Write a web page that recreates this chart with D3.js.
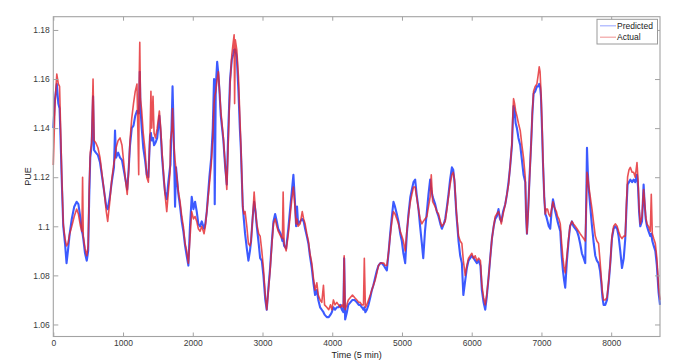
<!DOCTYPE html>
<html>
<head>
<meta charset="utf-8">
<script src="https://cdn.jsdelivr.net/npm/d3@7"></script>
<style>
  html, body { margin: 0; padding: 0; background: #fff; }
  svg { display: block; }
  text { font-family: "Liberation Sans", Arial, sans-serif; }
</style>
</head>
<body>
<svg id="chart" width="680" height="363"></svg>
<script>
// ---- data ----
const timeSteps = [0,25,50,72,90,105,120,143,168,190,210,235,265,300,335,360,390,410,420,430,455,480,500,515,530,550,570,585,610,640,670,700,730,760,780,810,838,870,885,900,930,957,985,1010,1035,1060,1080,1100,1125,1150,1175,1200,1225,1232,1240,1250,1268,1290,1316,1340,1363,1387,1400,1412,1430,1445,1465,1490,1521,1540,1560,1585,1602,1627,1650,1674,1680,1699,1710,1725,1746,1760,1794,1818,1842,1865,1890,1913,1937,1960,1985,2010,2033,2057,2080,2105,2129,2162,2180,2201,2238,2265,2287,2305,2315,2330,2350,2367,2385,2402,2439,2465,2488,2510,2535,2560,2580,2593,2600,2610,2631,2655,2675,2689,2717,2735,2750,2775,2798,2820,2836,2860,2880,2900,2918,2945,2966,2990,3013,3040,3061,3085,3109,3135,3157,3181,3205,3225,3260,3285,3296,3310,3339,3370,3396,3420,3443,3465,3482,3495,3510,3540,3570,3590,3611,3635,3658,3680,3707,3730,3754,3779,3800,3826,3850,3874,3890,3922,3950,3975,3994,4017,4040,4066,4090,4115,4138,4160,4171,4185,4210,4230,4260,4290,4320,4353,4380,4400,4425,4448,4460,4475,4496,4520,4545,4568,4590,4615,4640,4663,4690,4711,4740,4760,4783,4810,4831,4855,4878,4900,4926,4950,4975,4998,5020,5046,5070,5093,5120,5142,5165,5189,5210,5237,5260,5285,5305,5330,5357,5380,5404,5420,5440,5476,5500,5524,5550,5572,5600,5620,5645,5667,5690,5716,5735,5753,5780,5811,5835,5859,5880,5907,5930,5954,5978,6002,6026,6050,6074,6100,6125,6146,6170,6194,6215,6241,6265,6290,6315,6337,6360,6384,6405,6424,6450,6481,6505,6528,6550,6577,6590,6600,6615,6630,6648,6670,6696,6720,6743,6768,6780,6792,6810,6829,6854,6870,6887,6910,6935,6955,6968,6980,6993,7010,7022,7040,7055,7070,7088,7105,7126,7145,7165,7180,7198,7215,7231,7250,7270,7290,7308,7325,7341,7365,7389,7410,7437,7460,7485,7510,7532,7555,7580,7605,7628,7645,7653,7665,7676,7700,7725,7750,7772,7795,7819,7840,7858,7875,7891,7915,7940,7965,7987,8011,8035,8059,8085,8106,8130,8155,8180,8202,8220,8235,8255,8274,8300,8322,8345,8370,8385,8400,8417,8442,8465,8480,8495,8513,8535,8561,8575,8590,8610,8633,8655,8680,8700];

const actualPUE = [1.125,1.150,1.162,1.158,1.157,1.140,1.122,1.101,1.095,1.092,1.093,1.097,1.100,1.104,1.107,1.105,1.100,1.098,1.120,1.096,1.091,1.088,1.092,1.115,1.130,1.134,1.160,1.135,1.134,1.132,1.128,1.121,1.114,1.106,1.102,1.110,1.119,1.126,1.128,1.132,1.135,1.136,1.133,1.126,1.119,1.113,1.122,1.135,1.144,1.150,1.155,1.158,1.121,1.160,1.175,1.152,1.147,1.138,1.131,1.120,1.118,1.138,1.155,1.140,1.153,1.138,1.136,1.140,1.147,1.140,1.130,1.120,1.113,1.106,1.114,1.122,1.135,1.139,1.148,1.135,1.127,1.123,1.114,1.110,1.104,1.100,1.093,1.090,1.085,1.095,1.106,1.103,1.104,1.102,1.099,1.098,1.100,1.097,1.100,1.106,1.117,1.125,1.136,1.150,1.153,1.155,1.160,1.163,1.155,1.147,1.136,1.125,1.115,1.135,1.158,1.170,1.175,1.178,1.150,1.176,1.172,1.161,1.145,1.134,1.108,1.105,1.106,1.100,1.093,1.092,1.094,1.104,1.114,1.106,1.101,1.097,1.096,1.090,1.083,1.072,1.066,1.074,1.082,1.093,1.101,1.103,1.100,1.098,1.096,1.095,1.114,1.093,1.090,1.097,1.104,1.111,1.116,1.108,1.101,1.103,1.100,1.101,1.106,1.103,1.101,1.097,1.094,1.089,1.085,1.079,1.074,1.077,1.072,1.070,1.069,1.076,1.068,1.067,1.066,1.068,1.066,1.070,1.068,1.069,1.068,1.067,1.068,1.067,1.088,1.066,1.068,1.070,1.071,1.072,1.071,1.070,1.069,1.069,1.068,1.068,1.087,1.067,1.068,1.070,1.072,1.074,1.076,1.078,1.081,1.084,1.085,1.085,1.085,1.084,1.084,1.090,1.096,1.102,1.106,1.105,1.103,1.101,1.098,1.096,1.094,1.090,1.098,1.104,1.110,1.113,1.116,1.116,1.112,1.107,1.103,1.101,1.102,1.103,1.104,1.108,1.112,1.121,1.110,1.108,1.106,1.105,1.102,1.100,1.101,1.102,1.107,1.112,1.117,1.121,1.122,1.119,1.106,1.096,1.094,1.093,1.086,1.080,1.084,1.087,1.088,1.089,1.087,1.088,1.086,1.087,1.086,1.076,1.071,1.068,1.072,1.079,1.087,1.095,1.100,1.104,1.105,1.106,1.104,1.101,1.105,1.109,1.113,1.117,1.124,1.134,1.146,1.152,1.150,1.147,1.145,1.142,1.139,1.133,1.128,1.120,1.105,1.097,1.106,1.119,1.135,1.147,1.155,1.157,1.158,1.162,1.165,1.163,1.155,1.140,1.127,1.112,1.105,1.107,1.107,1.105,1.104,1.107,1.110,1.108,1.107,1.106,1.104,1.103,1.101,1.093,1.087,1.083,1.081,1.088,1.095,1.100,1.102,1.101,1.100,1.099,1.098,1.097,1.096,1.095,1.094,1.110,1.122,1.120,1.117,1.112,1.107,1.101,1.096,1.094,1.093,1.086,1.079,1.073,1.070,1.070,1.071,1.078,1.085,1.096,1.100,1.101,1.100,1.098,1.096,1.095,1.096,1.096,1.110,1.120,1.123,1.124,1.122,1.122,1.120,1.126,1.119,1.108,1.101,1.104,1.115,1.110,1.104,1.101,1.100,1.098,1.113,1.097,1.095,1.093,1.087,1.075,1.070];

const predictedPUE = [1.140,1.152,1.158,1.150,1.148,1.135,1.120,1.100,1.093,1.085,1.090,1.097,1.103,1.108,1.110,1.109,1.103,1.098,1.097,1.095,1.089,1.086,1.090,1.112,1.128,1.133,1.153,1.131,1.130,1.129,1.126,1.120,1.114,1.108,1.107,1.112,1.118,1.124,1.139,1.128,1.130,1.128,1.127,1.123,1.119,1.115,1.123,1.133,1.140,1.141,1.145,1.147,1.146,1.150,1.163,1.148,1.140,1.132,1.127,1.121,1.120,1.137,1.138,1.135,1.136,1.133,1.134,1.136,1.145,1.138,1.128,1.119,1.114,1.111,1.118,1.124,1.125,1.144,1.157,1.140,1.108,1.124,1.113,1.108,1.102,1.098,1.092,1.088,1.084,1.100,1.112,1.107,1.110,1.106,1.101,1.100,1.102,1.099,1.101,1.106,1.120,1.128,1.140,1.160,1.109,1.157,1.167,1.162,1.154,1.145,1.135,1.124,1.117,1.140,1.160,1.168,1.170,1.172,1.172,1.172,1.169,1.155,1.140,1.132,1.108,1.102,1.097,1.091,1.086,1.090,1.094,1.104,1.110,1.106,1.100,1.093,1.087,1.086,1.080,1.070,1.066,1.075,1.083,1.094,1.102,1.105,1.102,1.099,1.097,1.094,1.095,1.092,1.091,1.099,1.107,1.114,1.121,1.110,1.100,1.108,1.101,1.102,1.103,1.102,1.099,1.096,1.093,1.088,1.083,1.077,1.072,1.074,1.070,1.067,1.066,1.065,1.064,1.063,1.063,1.064,1.065,1.067,1.066,1.067,1.067,1.068,1.066,1.065,1.087,1.062,1.065,1.068,1.069,1.070,1.070,1.069,1.068,1.068,1.067,1.066,1.067,1.065,1.066,1.068,1.071,1.074,1.076,1.079,1.082,1.084,1.085,1.085,1.084,1.083,1.082,1.090,1.097,1.104,1.110,1.108,1.105,1.102,1.097,1.094,1.089,1.085,1.097,1.105,1.112,1.115,1.118,1.119,1.113,1.107,1.100,1.093,1.087,1.098,1.106,1.113,1.119,1.115,1.112,1.109,1.106,1.104,1.101,1.099,1.101,1.103,1.108,1.113,1.119,1.124,1.123,1.118,1.105,1.094,1.088,1.085,1.072,1.078,1.083,1.086,1.087,1.088,1.087,1.086,1.085,1.086,1.084,1.074,1.069,1.066,1.071,1.079,1.087,1.095,1.100,1.103,1.104,1.107,1.103,1.102,1.106,1.109,1.113,1.118,1.124,1.133,1.143,1.149,1.147,1.142,1.140,1.136,1.133,1.127,1.121,1.118,1.104,1.097,1.107,1.120,1.135,1.146,1.154,1.155,1.157,1.157,1.158,1.157,1.153,1.138,1.126,1.112,1.105,1.104,1.102,1.100,1.099,1.106,1.111,1.109,1.106,1.104,1.102,1.100,1.098,1.088,1.082,1.078,1.075,1.086,1.094,1.100,1.102,1.100,1.099,1.098,1.096,1.093,1.089,1.087,1.085,1.115,1.132,1.122,1.116,1.108,1.100,1.093,1.088,1.086,1.085,1.082,1.077,1.071,1.068,1.068,1.070,1.077,1.085,1.095,1.099,1.100,1.099,1.096,1.090,1.083,1.087,1.095,1.108,1.117,1.118,1.119,1.118,1.119,1.118,1.121,1.116,1.106,1.100,1.102,1.117,1.109,1.103,1.100,1.098,1.096,1.097,1.094,1.092,1.090,1.084,1.073,1.068];

const xTickValues = [0,1000,2000,3000,4000,5000,6000,7000,8000];
const yTickValues = [1.06,1.08,1.10,1.12,1.14,1.16,1.18];
const yTickLabels = ["1.06","1.08","1.1","1.12","1.14","1.16","1.18"];
const seriesNames = ["Predicted","Actual"];

// ---- layout ----
const L = 53.3, R = 660, T = 16.7, B = 336.5;
const svg = d3.select("#chart");
const x = d3.scaleLinear().domain([0, 8700]).range([L, R]);
const y = d3.scaleLinear().domain([1.0551, 1.1854]).range([B, T]);

const axisColor = "#a3a3a3";
const labelColor = "#3a3a3a";

// series lines
const predData = timeSteps.map((t, i) => [t, predictedPUE[i]]);
const actData = timeSteps.map((t, i) => [t, actualPUE[i]]);
const line = d3.line().x(d => x(d[0])).y(d => y(d[1]));

const g = svg.append("g");
g.append("path").datum(predData).attr("d", line)
  .attr("fill", "none").attr("stroke", "#1a3dff").attr("stroke-width", 2.1)
  .attr("stroke-opacity", 0.85).attr("stroke-linejoin", "round");
g.append("path").datum(actData).attr("d", line)
  .attr("fill", "none").attr("stroke", "#e3262b").attr("stroke-width", 1.6)
  .attr("stroke-opacity", 0.8).attr("stroke-linejoin", "round");

// axes
const fmtY = v => yTickLabels[yTickValues.indexOf(v)];
const styleAxis = (sel, showText) => {
  sel.select(".domain").remove();
  sel.selectAll(".tick line").attr("stroke", axisColor);
  sel.selectAll(".tick text").attr("fill", labelColor).attr("font-size", "8.5px")
    .attr("font-family", "'Liberation Sans', Arial, sans-serif");
  if (!showText) sel.selectAll(".tick text").remove();
};
svg.append("g").attr("transform", `translate(0,${B})`)
  .call(d3.axisBottom(x).tickValues(xTickValues).tickSize(-4).tickPadding(3).tickFormat(d3.format("d")))
  .call(s => styleAxis(s, true));
svg.append("g").attr("transform", `translate(0,${T})`)
  .call(d3.axisTop(x).tickValues(xTickValues).tickSize(-4).tickFormat(""))
  .call(s => styleAxis(s, false));
svg.append("g").attr("transform", `translate(${L},0)`)
  .call(d3.axisLeft(y).tickValues(yTickValues).tickSize(-5).tickPadding(3.5).tickFormat(fmtY))
  .call(s => styleAxis(s, true));
svg.append("g").attr("transform", `translate(${R},0)`)
  .call(d3.axisRight(y).tickValues(yTickValues).tickSize(-5).tickFormat(""))
  .call(s => styleAxis(s, false));

// box
svg.append("rect").attr("x", L).attr("y", T).attr("width", R - L).attr("height", B - T)
  .attr("fill", "none").attr("stroke", axisColor).attr("stroke-width", 1.1);

// axis titles
svg.append("text").attr("x", (L + R) / 2).attr("y", 358).attr("text-anchor", "middle")
  .attr("font-size", "9px").attr("fill", "#222").text("Time (5 min)");
svg.append("text").attr("transform", `translate(31,${(T + B) / 2}) rotate(-90)`)
  .attr("text-anchor", "middle").attr("font-size", "9px").attr("fill", "#222").text("PUE");

// legend
const lg = svg.append("g");
lg.append("rect").attr("x", 597).attr("y", 19.3).attr("width", 60.5).attr("height", 24.7)
  .attr("fill", "#fff").attr("stroke", "#9a9a9a").attr("stroke-width", 1);
const legendColors = ["#a7b2ff", "#f2a3a3"];
seriesNames.forEach((name, i) => {
  const cy = 25.8 + i * 11.4;
  lg.append("line").attr("x1", 600).attr("x2", 616).attr("y1", cy).attr("y2", cy)
    .attr("stroke", legendColors[i]).attr("stroke-width", 1.2);
  lg.append("text").attr("x", 617).attr("y", cy + 3).attr("font-size", "8.5px")
    .attr("fill", "#222").text(name);
});
</script>
</body>
</html>
